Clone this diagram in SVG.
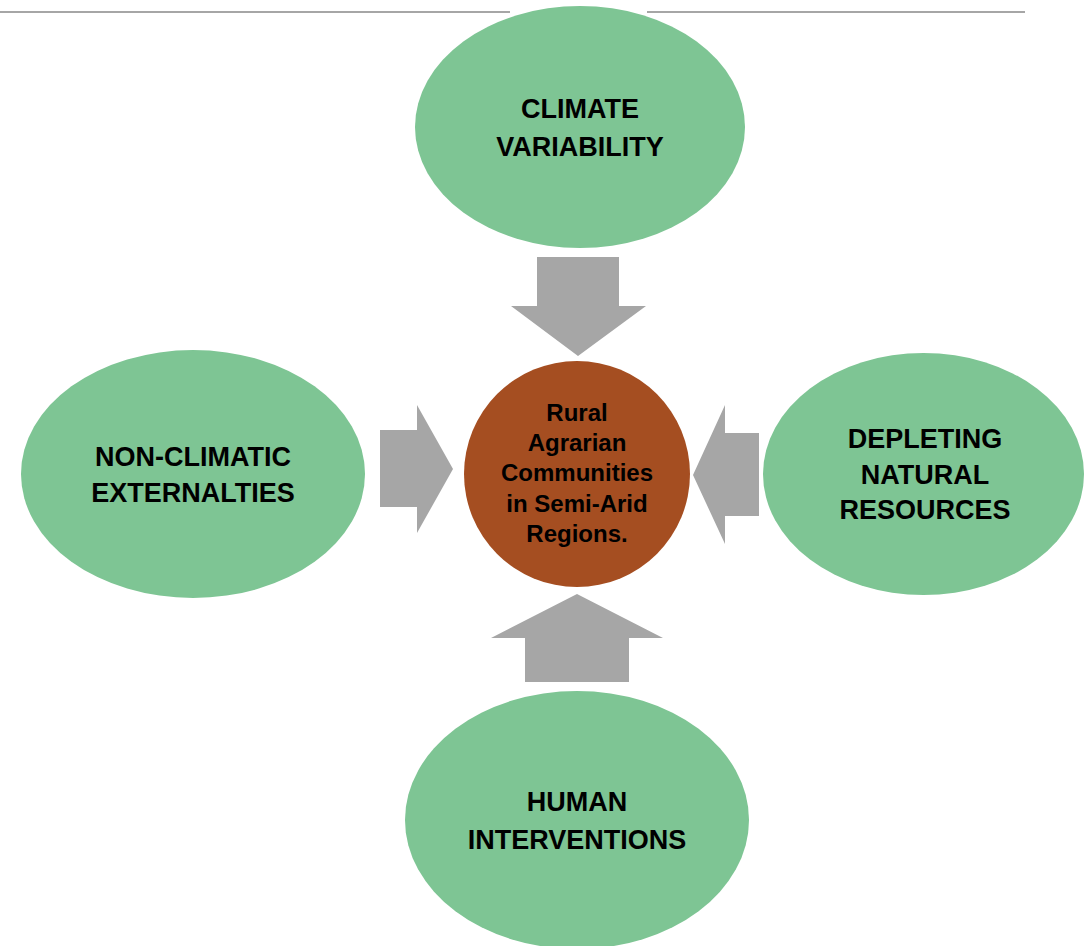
<svg xmlns="http://www.w3.org/2000/svg" width="1089" height="946" viewBox="0 0 1089 946">
  <style>
    .oval { fill: #7EC594; }
    .hub { fill: #A54E21; }
    .arrow { fill: #A6A6A6; }
    .rule { stroke: #A6A6A6; stroke-width: 2; fill: none; }
    .lbl { font-family: "Liberation Sans", Arial, sans-serif; font-weight: bold; font-size: 27px; fill: #000; text-anchor: middle; }
    .hubtxt { font-family: "Liberation Sans", Arial, sans-serif; font-weight: bold; font-size: 24px; fill: #000; text-anchor: middle; }
  </style>
  <rect width="1089" height="946" fill="#fff"/>
  <g id="topline">
    <line class="rule" x1="0" y1="12" x2="510" y2="12"/>
    <line class="rule" x1="647" y1="12" x2="1025" y2="12"/>
  </g>
  <g id="connectors">
    <polygon class="arrow" points="537,257 619,257 619,306 646,306 578,356 511,306 537,306"/>
    <polygon class="arrow" points="380,430 417,430 417,405 453,469 417,533 417,507 380,507"/>
    <polygon class="arrow" points="759,433 725,433 725,405 693,475 725,544 725,516 759,516"/>
    <polygon class="arrow" points="525,682 629,682 629,638 663,638 577,594 491,638 525,638"/>
  </g>
  <g id="climate-variability">
    <ellipse class="oval" cx="580" cy="127" rx="165" ry="121"/>
    <text class="lbl" x="580" y="118">CLIMATE</text>
    <text class="lbl" x="580" y="156">VARIABILITY</text>
  </g>
  <g id="non-climatic-externalities">
    <ellipse class="oval" cx="193" cy="474" rx="172" ry="124"/>
    <text class="lbl" x="193" y="466">NON-CLIMATIC</text>
    <text class="lbl" x="193" y="502">EXTERNALTIES</text>
  </g>
  <g id="depleting-natural-resources">
    <ellipse class="oval" cx="923.5" cy="474" rx="160.5" ry="121"/>
    <text class="lbl" x="925" y="448">DEPLETING</text>
    <text class="lbl" x="925" y="484">NATURAL</text>
    <text class="lbl" x="925" y="519">RESOURCES</text>
  </g>
  <g id="human-interventions">
    <ellipse class="oval" cx="577" cy="820" rx="172" ry="129"/>
    <text class="lbl" x="577" y="811">HUMAN</text>
    <text class="lbl" x="577" y="849">INTERVENTIONS</text>
  </g>
  <g id="rural-agrarian-communities">
    <circle class="hub" cx="577" cy="474" r="113"/>
    <text class="hubtxt" x="577" y="421">Rural</text>
    <text class="hubtxt" x="577" y="451">Agrarian</text>
    <text class="hubtxt" x="577" y="481">Communities</text>
    <text class="hubtxt" x="577" y="512">in Semi-Arid</text>
    <text class="hubtxt" x="577" y="542">Regions.</text>
  </g>
</svg>
